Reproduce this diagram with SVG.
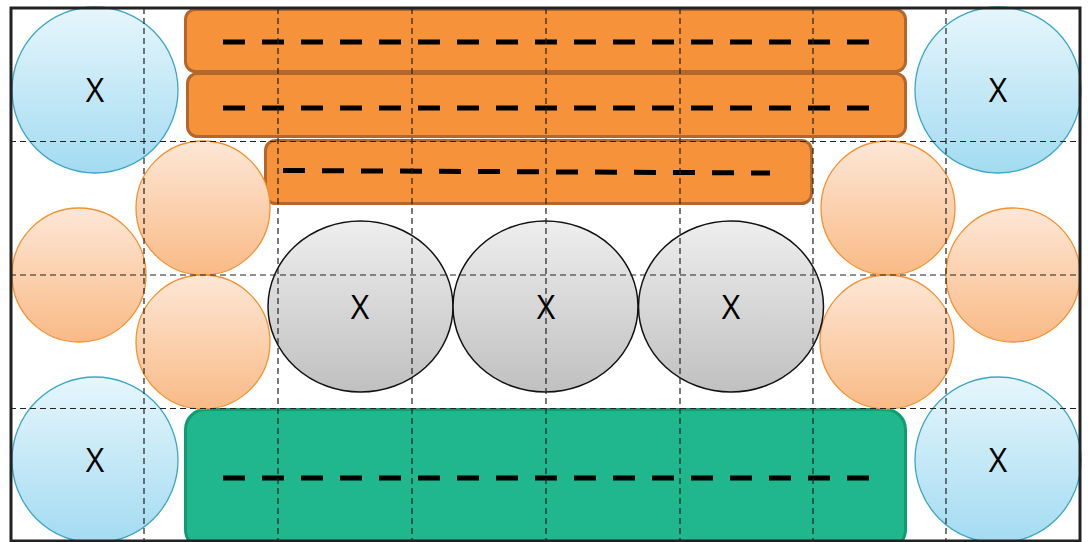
<svg xmlns="http://www.w3.org/2000/svg" width="1088" height="542" viewBox="0 0 1088 542">
<defs>
<linearGradient id="gBlue" x1="0" y1="0" x2="0" y2="1"><stop offset="0" stop-color="#e6f6fc"/><stop offset="1" stop-color="#a3dbf1"/></linearGradient>
<linearGradient id="gOr" x1="0" y1="0" x2="0" y2="1"><stop offset="0" stop-color="#fde7d6"/><stop offset="1" stop-color="#f9ba86"/></linearGradient>
<linearGradient id="gGray" x1="0" y1="0" x2="0" y2="1"><stop offset="0" stop-color="#eeeeee"/><stop offset="1" stop-color="#c0c0c0"/></linearGradient>
<style>
.blue{fill:url(#gBlue);stroke:#3ba7c6;stroke-width:1.3}
.orc{fill:url(#gOr);stroke:#f3922f;stroke-width:1.3}
.gray{fill:url(#gGray);stroke:#111;stroke-width:1.5}
.bar{fill:#f5923a;stroke:#b4672c;stroke-width:3}
.green{fill:#20b78e;stroke:#129a70;stroke-width:3}
.dash{stroke:#000;stroke-width:5;stroke-dasharray:22 17;fill:none}
.grid{stroke:#222;stroke-width:1.2;stroke-dasharray:6 4;fill:none}
.lbl{font-family:"Open Sans","Liberation Sans",Arial,sans-serif;font-size:32px;fill:#000;text-anchor:middle}
</style>
</defs>
<rect width="1088" height="542" fill="#fff"/>
<g id="bar1"><rect class="bar" x="185.5" y="9.5" width="720" height="62" rx="10"/><line class="dash" x1="223" y1="42" x2="870" y2="42"/></g>
<g id="bar2"><rect class="bar" x="187.5" y="73.5" width="718" height="63" rx="10"/><line class="dash" x1="223" y1="108" x2="870" y2="108"/></g>
<g id="bar3"><rect class="bar" x="265.5" y="140.5" width="546" height="63" rx="10"/><line class="dash" x1="283" y1="170.5" x2="770" y2="173"/></g>
<g id="green"><rect class="green" x="185.5" y="409.5" width="720" height="140" rx="20"/><line class="dash" x1="223" y1="478" x2="870" y2="478"/></g>
<g id="blue-tl"><circle class="blue" cx="95" cy="90" r="83"/><text class="lbl" x="95" y="102">X</text></g>
<g id="blue-tr"><circle class="blue" cx="998" cy="90" r="83"/><text class="lbl" x="998" y="102">X</text></g>
<g id="blue-bl"><circle class="blue" cx="95" cy="460" r="83"/><text class="lbl" x="95" y="472">X</text></g>
<g id="blue-br"><circle class="blue" cx="998" cy="460" r="83"/><text class="lbl" x="998" y="472">X</text></g>
<g id="or-l1"><circle class="orc" cx="79" cy="275" r="67"/></g>
<g id="or-l2"><circle class="orc" cx="203" cy="208" r="67"/></g>
<g id="or-l3"><circle class="orc" cx="203" cy="342" r="67"/></g>
<g id="or-r1"><circle class="orc" cx="888" cy="208" r="67"/></g>
<g id="or-r2"><circle class="orc" cx="887" cy="342" r="67"/></g>
<g id="or-r3"><circle class="orc" cx="1013" cy="275" r="67"/></g>
<g id="gray1"><ellipse class="gray" cx="360.5" cy="306.5" rx="92.5" ry="85.5"/><text class="lbl" x="360" y="319">X</text></g>
<g id="gray2"><ellipse class="gray" cx="545.5" cy="306.5" rx="92.5" ry="85.5"/><text class="lbl" x="546" y="319">X</text></g>
<g id="gray3"><ellipse class="gray" cx="731" cy="306.5" rx="92.5" ry="85.5"/><text class="lbl" x="731" y="319">X</text></g>
<g id="connectors">
<line class="grid" x1="144" y1="8" x2="144" y2="542"/>
<line class="grid" x1="278" y1="8" x2="278" y2="542"/>
<line class="grid" x1="412" y1="8" x2="412" y2="542"/>
<line class="grid" x1="546" y1="8" x2="546" y2="542"/>
<line class="grid" x1="680" y1="8" x2="680" y2="542"/>
<line class="grid" x1="813" y1="8" x2="813" y2="542"/>
<line class="grid" x1="946" y1="8" x2="946" y2="542"/>
<line class="grid" x1="10" y1="141.5" x2="1080" y2="141.5"/>
<line class="grid" x1="10" y1="275" x2="1080" y2="275"/>
<line class="grid" x1="10" y1="408.5" x2="1080" y2="408.5"/>
</g>
<rect x="11" y="8" width="1069" height="533" fill="none" stroke="#222" stroke-width="3"/>
</svg>
